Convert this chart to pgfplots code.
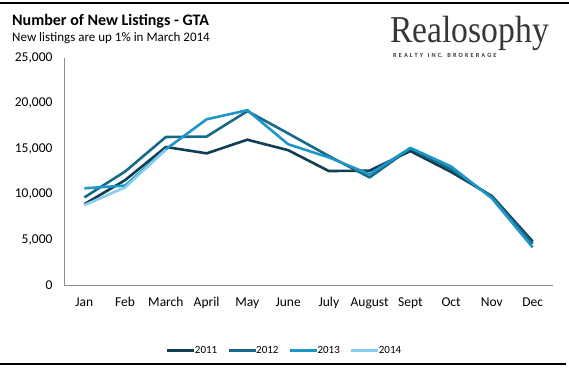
\documentclass[border=0pt]{standalone}
\usepackage{pgfplots}
\pgfplotsset{compat=1.18}
\usepackage{fontspec}
\setmainfont{Carlito}
\newfontfamily\logofont{Liberation Serif}
\definecolor{c11}{RGB}{16,62,82}
\definecolor{c12}{RGB}{24,104,136}
\definecolor{c13}{RGB}{30,150,200}
\definecolor{c14}{RGB}{135,205,238}
\definecolor{axgray}{RGB}{140,140,140}
\definecolor{logogray}{RGB}{55,55,55}
\begin{document}
\begin{tikzpicture}[x=1pt,y=1pt]
\path[use as bounding box] (0,0) rectangle (569,368);
\draw[line width=1.6pt] (0,365) -- (569,365);
\draw[line width=1.6pt] (0,4) -- (566,4);
\node[anchor=base west, inner sep=0, font=\fontsize{16}{18}\selectfont\bfseries] at (12,343) {Number of New Listings - GTA};
\node[anchor=base west, inner sep=0, font=\fontsize{13}{15}\selectfont] at (12,327) {New listings are up 1\% in March 2014};
\node[anchor=base west, inner sep=0, text=logogray, font=\fontsize{33}{36}\logofont] at (390,326) {\scalebox{1.02}[1.15]{Realosophy}};
\node[anchor=base west, inner sep=0, text=logogray, font=\fontsize{6.3}{7}\selectfont\bfseries] at (393,311) {R\,\,E\,\,A\,\,L\,\,T\,\,Y\,\, \,I\,\,N\,\,C.\,\, \,B\,\,R\,\,O\,\,K\,\,E\,\,R\,\,A\,\,G\,\,E};
\begin{axis}[
  at={(64pt,83pt)}, anchor=south west,
  scale only axis, width=489pt, height=227pt,
  xmin=-0.5, xmax=11.5, ymin=0, ymax=25000,
  axis x line=bottom, axis y line=left,
  axis line style={-, axgray, line width=0.8pt},
  xtick={0,...,11},
  xticklabels={Jan,Feb,March,April,May,June,July,August,Sept,Oct,Nov,Dec},
  ytick={0,5000,10000,15000,20000,25000},
  major tick length=0pt,
  scaled y ticks=false,
  /pgf/number format/.cd, 1000 sep={,}, assume math mode=true, /pgfplots/.cd,
  ticklabel style={font=\fontsize{13.5}{15}\selectfont, text=black},
  yticklabel style={xshift=-8pt},
  xticklabel style={yshift=-9pt},
  legend style={at={(0.451,-0.288)}, anchor=center, draw=none, legend columns=4,
    font=\fontsize{11}{12}\selectfont, /tikz/every even column/.append style={column sep=8pt},
    /tikz/every odd column/.append style={column sep=-3pt}},
  legend image code/.code={\draw[#1, line width=3pt] (0cm,0cm) -- (27pt,0cm);},
  every axis plot/.append style={line width=2.6pt, no markers, line join=round},
]
\addplot[c11] coordinates {(0,8900) (1,11550) (2,15200) (3,14500) (4,16000) (5,14850) (6,12550) (7,12600) (8,14750) (9,12450) (10,9800) (11,4800)};
\addplot[c12] coordinates {(0,9650) (1,12500) (2,16300) (3,16350) (4,19150) (5,16700) (6,14200) (7,11850) (8,15050) (9,12750) (10,9700) (11,4550)};
\addplot[c13] coordinates {(0,10650) (1,10950) (2,14950) (3,18250) (4,19250) (5,15500) (6,14050) (7,12200) (8,15100) (9,13050) (10,9550) (11,4150)};
\addplot[c14] coordinates {(0,8800) (1,10750) (2,14900)};
\legend{2011,2012,2013,2014}
\end{axis}
\end{tikzpicture}
\end{document}
